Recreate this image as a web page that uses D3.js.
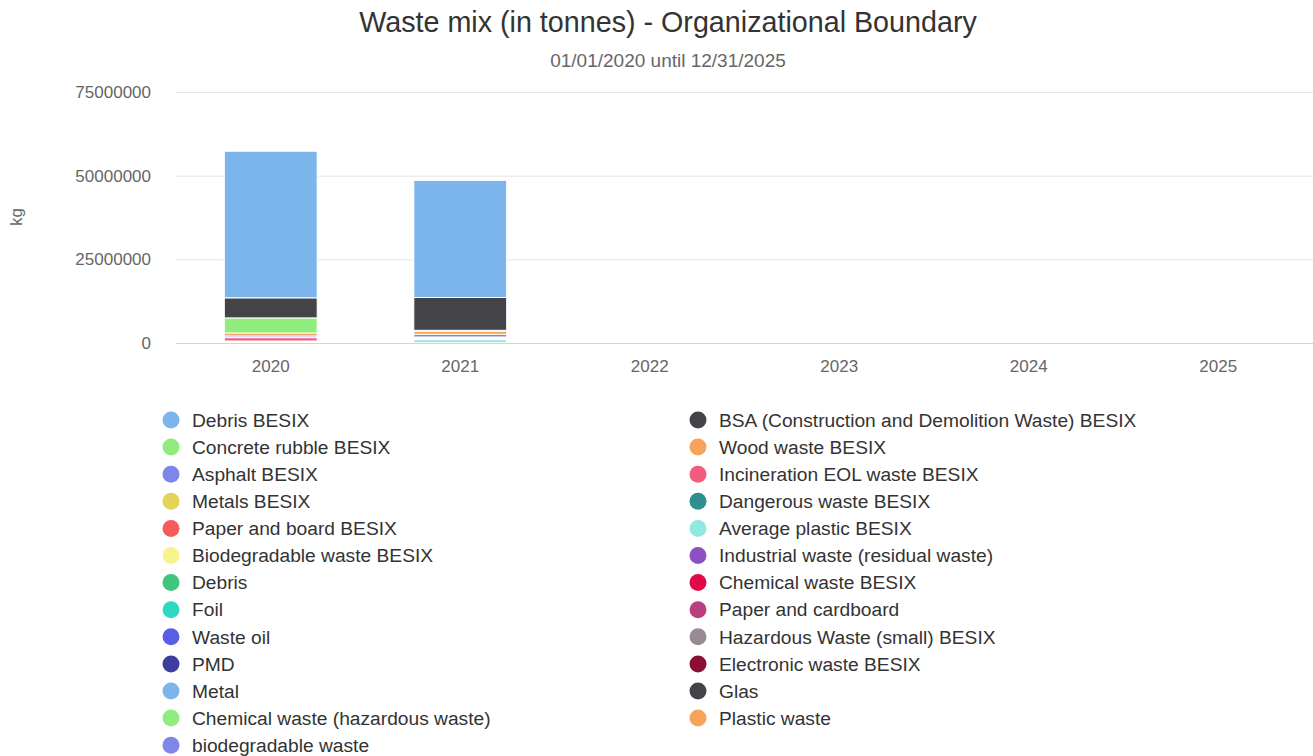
<!DOCTYPE html>
<html><head><meta charset="utf-8">
<script src="https://cdn.jsdelivr.net/npm/d3@7"></script>
<style>
html,body{margin:0;padding:0;background:#fff;}
svg{display:block;font-family:"Liberation Sans",Arial,sans-serif;}
</style></head>
<body>
<svg id="chart" width="1313" height="756"></svg>
<script>
const years = ["2020","2021","2022","2023","2024","2025"];
const seriesNames = ["Debris BESIX","BSA (Construction and Demolition Waste) BESIX","Concrete rubble BESIX","Wood waste BESIX","Asphalt BESIX","Incineration EOL waste BESIX","Metals BESIX","Dangerous waste BESIX","Paper and board BESIX","Average plastic BESIX","Biodegradable waste BESIX","Industrial waste (residual waste)","Debris","Chemical waste BESIX","Foil","Paper and cardboard","Waste oil","Hazardous Waste (small) BESIX","PMD","Electronic waste BESIX","Metal","Glas","Chemical waste (hazardous waste)","Plastic waste","biodegradable waste"];
const seriesColors = ["#7cb5ec","#434348","#90ed7d","#f7a35c","#8085e9","#f15c80","#e4d354","#2b908f","#f45b5b","#91e8e1","#f7f38f","#8d4fc3","#3fc57d","#e0094a","#2fd8c0","#b9407e","#5a5ee6","#9a8a94","#3d3d9e","#8a0f33","#7cb5ec","#434348","#90ed7d","#f7a35c","#8085e9"];
// values in kg per year (2020..2025), one array per series
const vDebrisBESIX   = [43800000,35000000,0,0,0,0];
const vBSA           = [6000000,9800000,0,0,0,0];
const vConcrete      = [4500000,300000,0,0,0,0];
const vWood          = [900000,900000,0,0,0,0];
const vAsphalt       = [500000,800000,0,0,0,0];
const vIncineration  = [1000000,300000,0,0,0,0];
const vMetalsB       = [200000,200000,0,0,0,0];
const vDangerous     = [100000,100000,0,0,0,0];
const vPaperBoard    = [200000,200000,0,0,0,0];
const vAvgPlastic    = [100000,900000,0,0,0,0];
const vBiodegB       = [0,100000,0,0,0,0];
const zeros          = [0,0,0,0,0,0];
const seriesValues = [vDebrisBESIX,vBSA,vConcrete,vWood,vAsphalt,vIncineration,vMetalsB,vDangerous,vPaperBoard,vAvgPlastic,vBiodegB,
  zeros,zeros,zeros,zeros,zeros,zeros,zeros,zeros,zeros,zeros,zeros,zeros,zeros,zeros];
const yTicks = [0,25000000,50000000,75000000];

const svg = d3.select("#chart");
const L = 176, R = 1313, T = 92, B = 343;
const x = d3.scaleBand().domain(years).range([L,R]).paddingInner(0.51).paddingOuter(0.255);
const y = d3.scaleLinear().domain([0,75000000]).range([B,T]);

svg.append("text").attr("x",668).attr("y",32).attr("text-anchor","middle")
  .attr("font-size",28.7).attr("fill","#333").text("Waste mix (in tonnes) - Organizational Boundary");
svg.append("text").attr("x",668).attr("y",67).attr("text-anchor","middle")
  .attr("font-size",19).attr("fill","#666").text("01/01/2020 until 12/31/2025");

// grid
const yAxis = d3.axisLeft(y).tickValues(yTicks).tickSize(-(R-L)).tickPadding(25).tickFormat(d3.format("d"));
const gy = svg.append("g").attr("transform",`translate(${L},0)`).call(yAxis);
gy.select(".domain").remove();
gy.selectAll(".tick line").attr("stroke","#e6e6e6");
gy.selectAll(".tick text").attr("font-size",17).attr("fill","#666").attr("font-family","Liberation Sans, Arial, sans-serif");

svg.append("text").attr("transform","translate(22,217) rotate(-90)").attr("text-anchor","middle")
  .attr("font-size",17).attr("fill","#666").text("kg");

// stacked data: first series on top
const stackInput = years.map((yr,i)=>{const o={year:yr}; seriesNames.forEach((n,k)=>o[k]=seriesValues[k][i]); return o;});
const keys = d3.range(seriesNames.length).reverse();
const stacked = d3.stack().keys(keys)(stackInput);
stacked.forEach(layer=>{
  const k = layer.key;
  svg.append("g").selectAll("rect").data(layer.filter(d=>d[1]-d[0]>0)).join("rect")
    .attr("x",d=>x(d.data.year)).attr("width",x.bandwidth())
    .attr("y",d=>y(d[1])).attr("height",d=>y(d[0])-y(d[1]))
    .attr("fill",seriesColors[k]).attr("stroke","#fff").attr("stroke-width",1);
});

// x axis
const xAxis = d3.axisBottom(x).tickSize(0).tickPadding(17);
const gx = svg.append("g").attr("transform",`translate(0,${B})`).call(xAxis);
gx.select(".domain").attr("stroke","#ccd6eb").attr("d",`M${L},0.5H${R}`);
gx.selectAll(".tick text").attr("font-size",17).attr("fill","#666").attr("font-family","Liberation Sans, Arial, sans-serif");

// legend: two columns, row-wise order
const leg = svg.append("g");
seriesNames.forEach((n,i)=>{
  const col = i%2, row = Math.floor(i/2);
  const gx0 = col===0 ? 171 : 698;
  const gy0 = 420 + row*27.1;
  leg.append("circle").attr("cx",gx0).attr("cy",gy0).attr("r",8.5).attr("fill",seriesColors[i]);
  leg.append("text").attr("x",gx0+21).attr("y",gy0+6.7).attr("font-size",19.2).attr("fill","#333").text(n);
});
</script>
</body></html>
